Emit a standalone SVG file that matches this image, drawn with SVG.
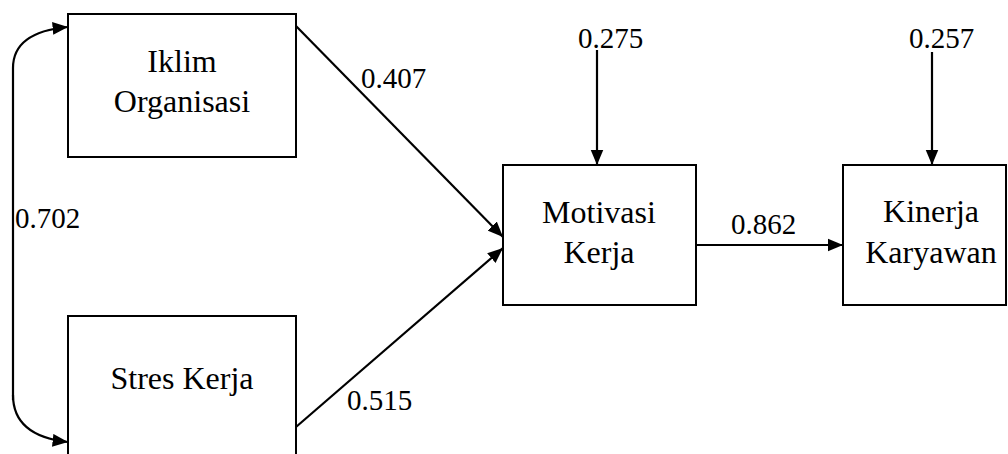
<svg xmlns="http://www.w3.org/2000/svg" width="1008" height="454" viewBox="0 0 1008 454">
<style>
.box{fill:#fff;stroke:#000;stroke-width:2}
.lbl{font-family:'Liberation Serif','Times New Roman',serif;font-size:32px;fill:#000;text-anchor:middle}
.num{font-family:'Liberation Serif','Times New Roman',serif;font-size:29px;fill:#000}
.con{fill:none;stroke:#000;stroke-width:2.2}
</style>
<defs>
<marker id="ah" viewBox="0 0 12 10" refX="12" refY="5" markerWidth="7" markerHeight="6" markerUnits="strokeWidth" orient="auto">
<path d="M0,0 L12,5 L0,10 Z" fill="#000"/>
</marker>
</defs>
<rect width="1008" height="454" fill="#fff"/>
<g id="connectors">
<path class="con" d="M13,400 L13,68 Q13,32 68,27" marker-end="url(#ah)"/>
<path class="con" d="M13,395 Q13,436 68,442" marker-end="url(#ah)"/>
<path class="con" d="M296,26 L503,237" marker-end="url(#ah)"/>
<path class="con" d="M296,427 L503,248" marker-end="url(#ah)"/>
<path class="con" d="M696,245 L843,245" marker-end="url(#ah)"/>
<path class="con" d="M597,50 L597,165" marker-end="url(#ah)"/>
<path class="con" d="M932,52 L932,165" marker-end="url(#ah)"/>
</g>
<g id="iklim">
<rect class="box" x="68" y="14" width="228" height="143"/>
<text class="lbl" x="182" y="72">Iklim</text>
<text class="lbl" x="182" y="112">Organisasi</text>
</g>
<g id="stres">
<rect class="box" x="68" y="316" width="228" height="160"/>
<text class="lbl" x="182" y="389">Stres Kerja</text>
</g>
<g id="motivasi">
<rect class="box" x="503" y="165" width="193" height="140"/>
<text class="lbl" x="599" y="223">Motivasi</text>
<text class="lbl" x="599" y="263">Kerja</text>
</g>
<g id="kinerja">
<rect class="box" x="843" y="165" width="163" height="140"/>
<text class="lbl" x="931" y="222">Kinerja</text>
<text class="lbl" x="931" y="263">Karyawan</text>
</g>
<g id="labels">
<text class="num" x="361" y="88">0.407</text>
<text class="num" x="347" y="410">0.515</text>
<text class="num" x="15" y="228">0.702</text>
<text class="num" x="731" y="234">0.862</text>
<text class="num" x="578" y="48">0.275</text>
<text class="num" x="909" y="48">0.257</text>
</g>
</svg>
